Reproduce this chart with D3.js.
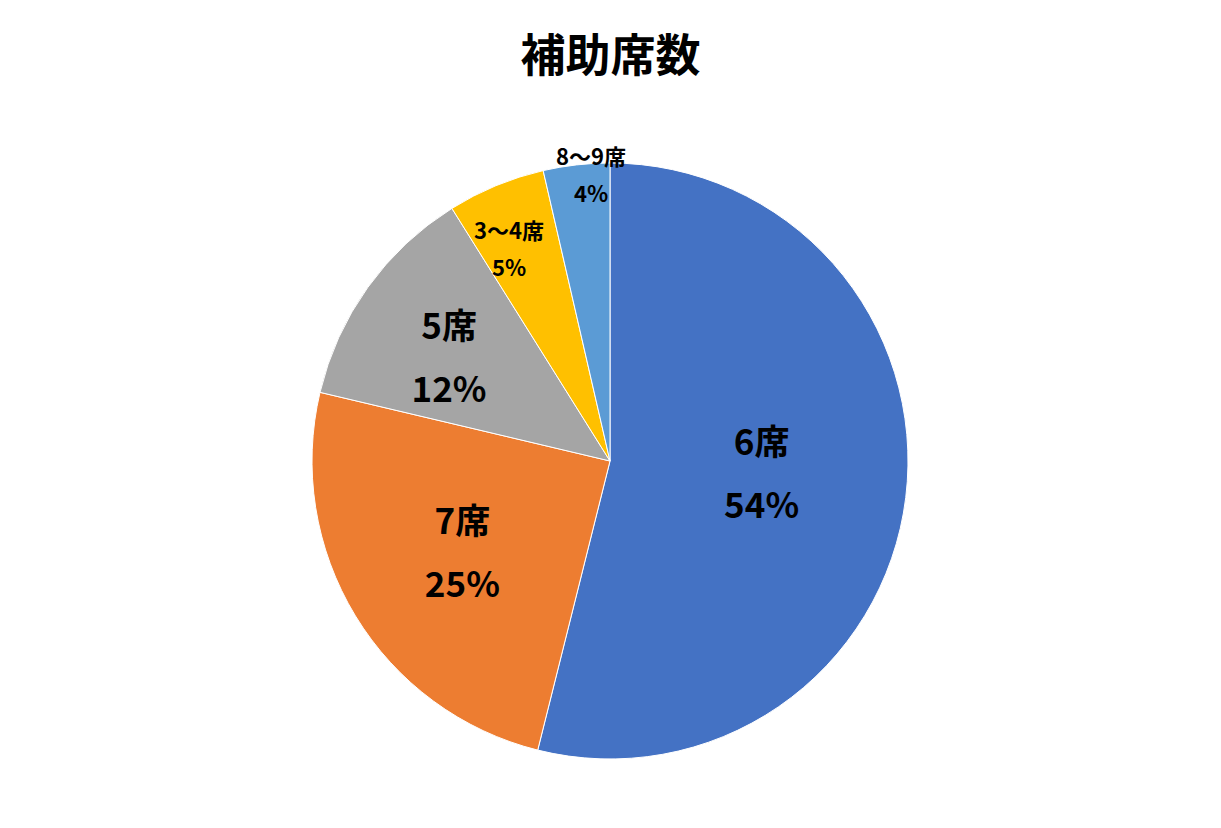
<!DOCTYPE html>
<html>
<head>
<meta charset="utf-8">
<script src="https://cdn.jsdelivr.net/npm/d3@7"></script>
<style>
  html, body { margin: 0; padding: 0; background: #ffffff; }
  svg { display: block; }
  text { font-family: "Noto Sans CJK JP", "Noto Sans", sans-serif; font-weight: bold; fill: #000; }
</style>
</head>
<body>
<svg id="chart" width="1221" height="828"></svg>
<script>
// ---- data ----
const title = "補助席数";
const categories = ["6席", "7席", "5席", "3～4席", "8～9席"];
const values = [53.9, 24.8, 12.4, 5.3, 3.6];   // share (%)
const colors = ["#4472C4", "#ED7D31", "#A5A5A5", "#FFC000", "#5B9BD5"];

// ---- label layout (fraction of radius, angle offset in degrees, font size, half line gap) ----
const labelRadius = [0.51, 0.58, 0.645, 0.79, 0.965];
const labelAngleShift = [-3, 0, -2.5, -2.9, 2.7];
const labelFont = [35, 35, 35, 22, 22];
const labelHalfGap = [31, 31, 31, 18, 18];

const W = 1221, H = 828;
const cx = 610, cy = 461, R = 298;

const svg = d3.select("#chart");

svg.append("text")
  .attr("x", W / 2)
  .attr("y", 52)
  .attr("text-anchor", "middle")
  .attr("dominant-baseline", "central")
  .style("font-size", "45px")
  .text(title);

const data = categories.map((c, i) => ({ cat: c, value: values[i], i }));
const total = d3.sum(values);

const pie = d3.pie().value(d => d.value).sort(null).startAngle(0).endAngle(2 * Math.PI);
const arcs = pie(data);
const arc = d3.arc().innerRadius(0).outerRadius(R);

const g = svg.append("g").attr("transform", `translate(${cx},${cy})`);

g.selectAll("path.slice")
  .data(arcs)
  .enter().append("path")
  .attr("class", "slice")
  .attr("d", arc)
  .attr("fill", d => colors[d.data.i])
  .attr("stroke", "#ffffff")
  .attr("stroke-width", 1);

const fmt = v => Math.round(v / total * 100) + "%";

const labels = g.selectAll("g.label")
  .data(arcs)
  .enter().append("g")
  .attr("class", "label")
  .attr("transform", d => {
    const i = d.data.i;
    const a = (d.startAngle + d.endAngle) / 2 + labelAngleShift[i] * Math.PI / 180;
    const r = R * labelRadius[i];
    return `translate(${r * Math.sin(a)},${-r * Math.cos(a)})`;
  });

labels.append("text")
  .attr("text-anchor", "middle")
  .attr("dominant-baseline", "central")
  .attr("y", d => -labelHalfGap[d.data.i] - 1)
  .style("font-size", d => labelFont[d.data.i] + "px")
  .text(d => d.data.cat);

labels.append("text")
  .attr("text-anchor", "middle")
  .attr("dominant-baseline", "central")
  .attr("y", d => labelHalfGap[d.data.i])
  .style("font-size", d => labelFont[d.data.i] + "px")
  .text(d => fmt(d.data.value));
</script>
</body>
</html>
